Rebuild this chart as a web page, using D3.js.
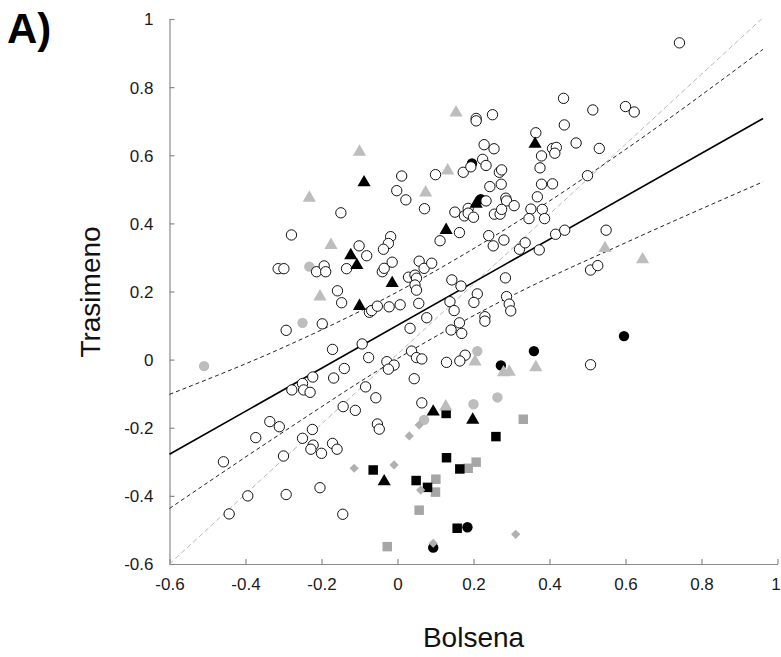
<!DOCTYPE html>
<html><head><meta charset="utf-8">
<script src="https://cdn.jsdelivr.net/npm/d3@7"></script>
<style>
body{margin:0;background:#fff}
svg{display:block}
text{font-family:"Liberation Sans",Arial,Helvetica,sans-serif}
</style>
</head><body>
<svg id="chart" width="781" height="657"></svg>
<script>
// ---- tick labels ----
const xTicks = [-0.6,-0.4,-0.2,0,0.2,0.4,0.6,0.8,1];
const yTicks = [-0.6,-0.4,-0.2,0,0.2,0.4,0.6,0.8,1];
const xTitle = "Bolsena";
const yTitle = "Trasimeno";
const panelLabel = "A)";

// ---- open circles ----
const openX = [0.011,0.10,0.173,-0.002,0.022,0.071,-0.149,0.151,0.176,0.186,0.163,0.112,-0.279,-0.018,-0.024,-0.037,-0.101,-0.081,-0.314,-0.299,-0.213,-0.193,-0.189,-0.134,-0.04,-0.035,-0.014,0.057,0.07,0.09,0.029,0.046,0.05,0.046,0.05,0.143,0.167,-0.158,
 0.742,0.437,0.514,0.6,0.623,0.207,0.207,0.25,0.439,0.364,0.47,0.228,0.254,0.408,0.418,0.414,0.531,0.379,0.224,0.233,0.193,0.375,0.268,0.274,0.273,0.243,0.379,0.408,0.5,0.368,0.285,0.287,0.307,0.233,0.186,0.2,0.255,0.27,0.274,0.351,0.381,0.346,0.387,0.416,0.44,0.24,0.252,0.28,0.321,0.336,0.373,0.549,0.508,0.527,0.284,0.21,0.287,
 -0.147,-0.074,-0.068,-0.053,-0.022,0.007,0.056,0.077,0.033,0.138,0.149,0.163,0.141,0.169,0.178,0.164,0.129,-0.293,-0.198,-0.093,-0.171,-0.076,0.037,0.05,0.064,-0.028,-0.009,-0.024,-0.14,-0.168,-0.223,-0.25,-0.247,-0.23,-0.278,-0.084,-0.057,0.044,0.064,-0.143,-0.111,-0.336,-0.311,-0.224,-0.053,-0.048,-0.373,-0.25,-0.222,-0.228,-0.2,-0.171,-0.159,-0.458,-0.3,-0.394,-0.293,-0.204,-0.443,-0.144,
 0.201,0.294,0.298,0.23,0.23,0.508];
const openY = [0.539,0.543,0.55,0.496,0.469,0.443,0.431,0.433,0.422,0.444,0.373,0.349,0.366,0.361,0.341,0.324,0.334,0.305,0.267,0.267,0.258,0.275,0.258,0.267,0.258,0.268,0.286,0.289,0.268,0.283,0.242,0.248,0.239,0.219,0.204,0.234,0.216,0.202,
 0.93,0.767,0.733,0.743,0.727,0.708,0.701,0.719,0.689,0.666,0.636,0.631,0.619,0.62,0.623,0.606,0.62,0.598,0.588,0.57,0.566,0.563,0.55,0.557,0.515,0.508,0.515,0.516,0.54,0.478,0.474,0.466,0.452,0.466,0.43,0.418,0.427,0.427,0.441,0.442,0.441,0.414,0.414,0.368,0.38,0.364,0.334,0.351,0.324,0.343,0.322,0.38,0.263,0.276,0.24,0.193,0.185,
 0.167,0.139,0.144,0.157,0.155,0.161,0.165,0.123,0.092,0.17,0.144,0.108,0.087,0.077,0.013,-0.004,-0.008,0.086,0.105,0.046,0.03,0.006,0.025,0.006,0.002,-0.006,-0.016,-0.028,-0.026,-0.054,-0.051,-0.07,-0.089,-0.096,-0.089,-0.08,-0.112,-0.056,-0.127,-0.138,-0.149,-0.182,-0.197,-0.205,-0.189,-0.204,-0.229,-0.231,-0.251,-0.263,-0.275,-0.246,-0.263,-0.3,-0.283,-0.4,-0.396,-0.376,-0.453,-0.454,
 0.168,0.163,0.143,0.126,0.113,-0.015];

// ---- filled markers ----
const blackCircleX = [0.196,0.219,0.596,0.359,0.272,0.184,0.094];
const blackCircleY = [0.576,0.471,0.069,0.025,-0.017,-0.492,-0.552];
const grayCircleX = [-0.232,-0.25,-0.509,0.21,0.263,0.2,0.07];
const grayCircleY = [0.273,0.108,-0.019,0.025,-0.111,-0.131,-0.177];
const blackTriX = [-0.088,-0.123,-0.107,0.128,-0.014,0.362,0.207,-0.10,0.094,-0.035,0.198];
const blackTriY = [0.52,0.306,0.277,0.38,0.224,0.633,0.457,0.157,-0.153,-0.358,-0.177];
const grayTriX = [0.154,-0.10,-0.232,0.132,0.074,-0.175,-0.204,0.546,0.645,0.127,0.204,0.279,0.294,0.364];
const grayTriY = [0.725,0.61,0.475,0.555,0.49,0.336,0.185,0.327,0.294,-0.138,-0.006,-0.038,-0.036,-0.023];
const blackSqX = [0.128,0.129,0.164,-0.064,0.049,0.079,0.157,0.259];
const blackSqY = [-0.158,-0.288,-0.321,-0.324,-0.355,-0.375,-0.495,-0.226];
const graySqX = [0.186,0.101,0.1,0.057,-0.027,0.331,0.207];
const graySqY = [-0.319,-0.351,-0.389,-0.442,-0.549,-0.175,-0.301];
const grayDiaX = [0.031,0.057,-0.114,-0.009,0.061,0.094,0.311];
const grayDiaY = [-0.224,-0.192,-0.319,-0.309,-0.383,-0.539,-0.513];

// ---- fitted lines ----
const fitX = [-0.6, 0.962];
const fitY = [-0.278, 0.708];
const bandX = [-0.6,-0.3,0,0.3,0.6,0.962];
const bandUpper = [-0.102,0.036,0.199,0.394,0.617,0.911];
const bandLower = [-0.437,-0.212,0.003,0.187,0.343,0.522];
const refX = [-0.6, 0.958];
const refY = [-0.6, 1.0];

// ---- layout ----
const svg = d3.select("#chart");
const x = d3.scaleLinear().domain([-0.6,1]).range([169.5,777.5]);
const y = d3.scaleLinear().domain([-0.6,1]).range([564,19]);
const fmt = d => (Math.round(d*10)/10).toString();

// axes
const gx = svg.append("g").attr("transform","translate(0,564)")
  .call(d3.axisBottom(x).tickValues(xTicks).tickFormat(fmt).tickSizeInner(-5).tickSizeOuter(0).tickPadding(14));
const gy = svg.append("g").attr("transform","translate(169.5,0)")
  .call(d3.axisLeft(y).tickValues(yTicks).tickFormat(fmt).tickSizeInner(-5).tickSizeOuter(0).tickPadding(16));
[gx,gy].forEach(g=>{
  g.select(".domain").attr("stroke","#8a8a8a").attr("stroke-width",1.2);
  g.selectAll(".tick line").attr("stroke","#8a8a8a").attr("stroke-width",1.2);
  g.selectAll(".tick text").attr("fill","#1a1a1a").style("font-size","17px");
});
gy.selectAll(".tick text").attr("dy","0.35em");
gx.selectAll(".tick text").filter(d=>d===1).attr("dx","-2px");

// lines
const line = d3.line().x(d=>x(d[0])).y(d=>y(d[1]));
const curve = d3.line().x(d=>x(d[0])).y(d=>y(d[1])).curve(d3.curveMonotoneX);
svg.append("path").attr("d", line(refX.map((v,i)=>[v,refY[i]])))
  .attr("fill","none").attr("stroke","#b8b8b8").attr("stroke-width",1).attr("stroke-dasharray","5,3");
svg.append("path").attr("d", curve(bandX.map((v,i)=>[v,bandUpper[i]])))
  .attr("fill","none").attr("stroke","#222").attr("stroke-width",1).attr("stroke-dasharray","4,3");
svg.append("path").attr("d", curve(bandX.map((v,i)=>[v,bandLower[i]])))
  .attr("fill","none").attr("stroke","#222").attr("stroke-width",1).attr("stroke-dasharray","4,3");
svg.append("path").attr("d", line(fitX.map((v,i)=>[v,fitY[i]])))
  .attr("fill","none").attr("stroke","#000").attr("stroke-width",1.6);

// markers
function pts(xs,ys){return xs.map((v,i)=>[v,ys[i]]);}
const sym = (type,size)=>d3.symbol().type(type).size(size)();
function drawSym(data,type,size,fill,stroke,sw,rot){
  svg.append("g").selectAll("path").data(data).join("path")
    .attr("transform",d=>`translate(${x(d[0])},${y(d[1])})${rot?` rotate(${rot})`:""}`)
    .attr("d",sym(type,size)).attr("fill",fill)
    .attr("stroke",stroke||"none").attr("stroke-width",sw||0);
}
drawSym(pts(blackCircleX,blackCircleY), d3.symbolCircle, 85, "#000");
drawSym(pts(grayCircleX,grayCircleY), d3.symbolCircle, 85, "#bdbdbd");
drawSym(pts(openX,openY), d3.symbolCircle, 84, "#fff", "#111", 1);
drawSym(pts(graySqX,graySqY), d3.symbolSquare, 90, "#a6a6a6");
drawSym(pts(blackSqX,blackSqY), d3.symbolSquare, 90, "#000");
drawSym(pts(grayDiaX,grayDiaY), d3.symbolSquare, 42, "#b0b0b0", null, 0, 45);
drawSym(pts(grayTriX,grayTriY), d3.symbolTriangle, 75, "#bdbdbd");
drawSym(pts(blackTriX,blackTriY), d3.symbolTriangle, 75, "#000");

// titles
svg.append("text").attr("x",473.5).attr("y",647).attr("text-anchor","middle")
  .style("font-size","28px").attr("fill","#111").text(xTitle);
svg.append("text").attr("transform","translate(100,292) rotate(-90)").attr("text-anchor","middle")
  .style("font-size","28px").attr("fill","#111").text(yTitle);
svg.append("text").attr("x",7).attr("y",43).style("font-size","42px").style("font-weight","bold")
  .attr("fill","#000").text(panelLabel);
</script>
</body></html>
